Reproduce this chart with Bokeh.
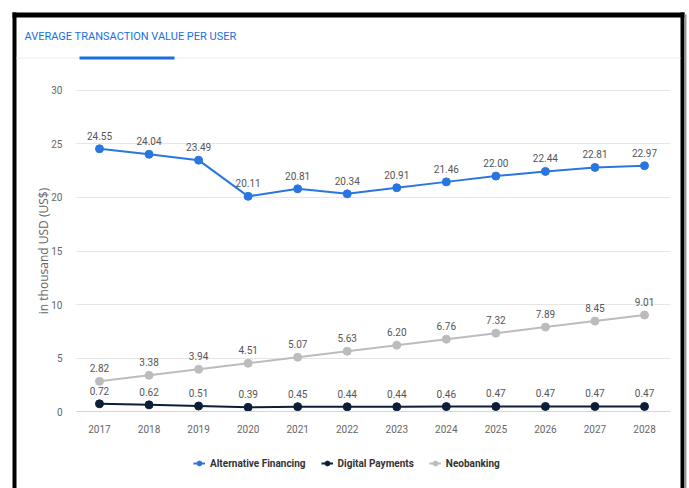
from bokeh.plotting import figure
from bokeh.models import (Range1d, FixedTicker, Legend, LegendItem, Label,
                          BoxAnnotation, ColumnDataSource)
from bokeh.embed import file_html
from bokeh.resources import INLINE
from bokeh.core.properties import value

# ---------------- data ----------------
years = ["2017", "2018", "2019", "2020", "2021", "2022", "2023", "2024", "2025", "2026", "2027", "2028"]
alt_fin = [24.55, 24.04, 23.49, 20.11, 20.81, 20.34, 20.91, 21.46, 22.00, 22.44, 22.81, 22.97]
dig_pay = [0.72, 0.62, 0.51, 0.39, 0.45, 0.44, 0.44, 0.46, 0.47, 0.47, 0.47, 0.47]
neo_bank = [2.82, 3.38, 3.94, 4.51, 5.07, 5.63, 6.20, 6.76, 7.32, 7.89, 8.45, 9.01]
series_names = ["Alternative Financing", "Digital Payments", "Neobanking"]
y_ticks = [0, 5, 10, 15, 20, 25, 30]
title_text = "AVERAGE TRANSACTION VALUE PER USER"
y_label = "in thousand USD (US$)"

# ---------------- style ----------------
colors = ["#2a76e0", "#0d1f38", "#bcbcbc"]
FONT = "Roboto"
W, H = 689, 488

x_pos = list(range(len(years)))
# plot area spans the whole canvas; axes are pinned inside it
X0, X1 = -1.998, 11.908
Y0, Y1 = -7.196, 38.411
AX_LEFT, AX_RIGHT = -0.464, 11.525

p = figure(width=W, height=H, x_range=Range1d(X0, X1), y_range=Range1d(Y0, Y1),
           output_backend="svg", toolbar_location=None,
           min_border=0, min_border_left=0, min_border_right=0,
           min_border_top=0, min_border_bottom=0,
           background_fill_color="white", border_fill_color="white")
p.outline_line_color = None
p.title.visible = False

# ---------------- axes ----------------
p.xaxis.fixed_location = 0
p.xaxis.bounds = (AX_LEFT, AX_RIGHT)
p.xaxis.ticker = FixedTicker(ticks=x_pos)
p.xaxis.major_label_overrides = {i: y for i, y in zip(x_pos, years)}
p.xaxis.axis_line_color = "#ccd6eb"
p.xaxis.axis_line_width = 1
p.xaxis.major_tick_line_color = None
p.xaxis.minor_tick_line_color = None
p.xaxis.major_label_text_font = FONT
p.xaxis.major_label_text_font_size = "10px"
p.xaxis.major_label_text_color = "#666666"
p.xaxis.major_label_standoff = 7

p.yaxis.fixed_location = AX_LEFT
p.yaxis.bounds = (0, 30)
p.yaxis.ticker = FixedTicker(ticks=y_ticks)
p.yaxis.axis_line_color = None
p.yaxis.major_tick_line_color = None
p.yaxis.minor_tick_line_color = None
p.yaxis.major_label_text_font = FONT
p.yaxis.major_label_text_font_size = "10px"
p.yaxis.major_label_text_color = "#666666"
p.yaxis.major_label_standoff = 8
p.yaxis.axis_label = y_label
p.yaxis.axis_label_text_font = "Open Sans"
p.yaxis.axis_label_text_font_size = "12px"
p.yaxis.axis_label_text_font_style = "normal"
p.yaxis.axis_label_text_color = "#666666"
p.yaxis.axis_label_standoff = -4

p.xgrid.grid_line_color = None
g = p.ygrid[0]
if "cross_bounds" in g.properties():
    g.cross_bounds = (AX_LEFT, AX_RIGHT)
    g.grid_line_color = "#e6e6e6"
else:
    g.grid_line_color = None
    p.segment(x0=[AX_LEFT] * len(y_ticks), x1=[AX_RIGHT] * len(y_ticks),
              y0=y_ticks, y1=y_ticks, line_color="#e6e6e6", line_width=1)


# ---------------- frame decorations (canvas pixels) ----------------
def cbox(l, r, t, b, color):
    p.add_layout(BoxAnnotation(left=l, right=r, top=t, bottom=b,
                               left_units="canvas", right_units="canvas",
                               top_units="canvas", bottom_units="canvas",
                               fill_color=color, fill_alpha=1, line_color=None,
                               level="overlay"))


cbox(12, 16, 12, 488, "black")
cbox(12, 684, 12, 17, "black")
cbox(680, 684, 12, 488, "black")
cbox(684, 686, 14, 488, "#9a9a9a")
cbox(16, 680, 57, 58, "#e6eef8")
cbox(79, 174, 56, 59, "#1a6fdf")

p.add_layout(Label(x=24, y=36, x_units="canvas", y_units="canvas", text=title_text,
                   text_font=FONT, text_font_size="11px", text_color="#1a6fdf",
                   text_baseline="middle", text_align="left"))

# ---------------- series ----------------
items = []
for name, vals, col in zip(series_names, [alt_fin, dig_pay, neo_bank], colors):
    src = ColumnDataSource(dict(x=x_pos, y=vals, lab=["%.2f" % v for v in vals]))
    l = p.line("x", "y", source=src, line_color=col, line_width=2)
    s = p.scatter("x", "y", source=src, size=8, fill_color=col, line_color=col)
    p.text("x", "y", text="lab", source=src, text_font=value(FONT), text_font_size="10px",
           text_color="#555555", text_align="center", text_baseline="bottom", y_offset=-9)
    items.append(LegendItem(label=name, renderers=[l, s]))

legend = Legend(items=items, orientation="horizontal", location=(193, 19),
                label_text_font=FONT, label_text_font_size="10px", label_text_font_style="bold",
                label_text_color="#333333",
                glyph_width=12, glyph_height=12, spacing=15, label_standoff=5,
                border_line_color=None, background_fill_alpha=0, margin=0, padding=2)
p.add_layout(legend)

open("out.html", "w").write(file_html(p, INLINE))
